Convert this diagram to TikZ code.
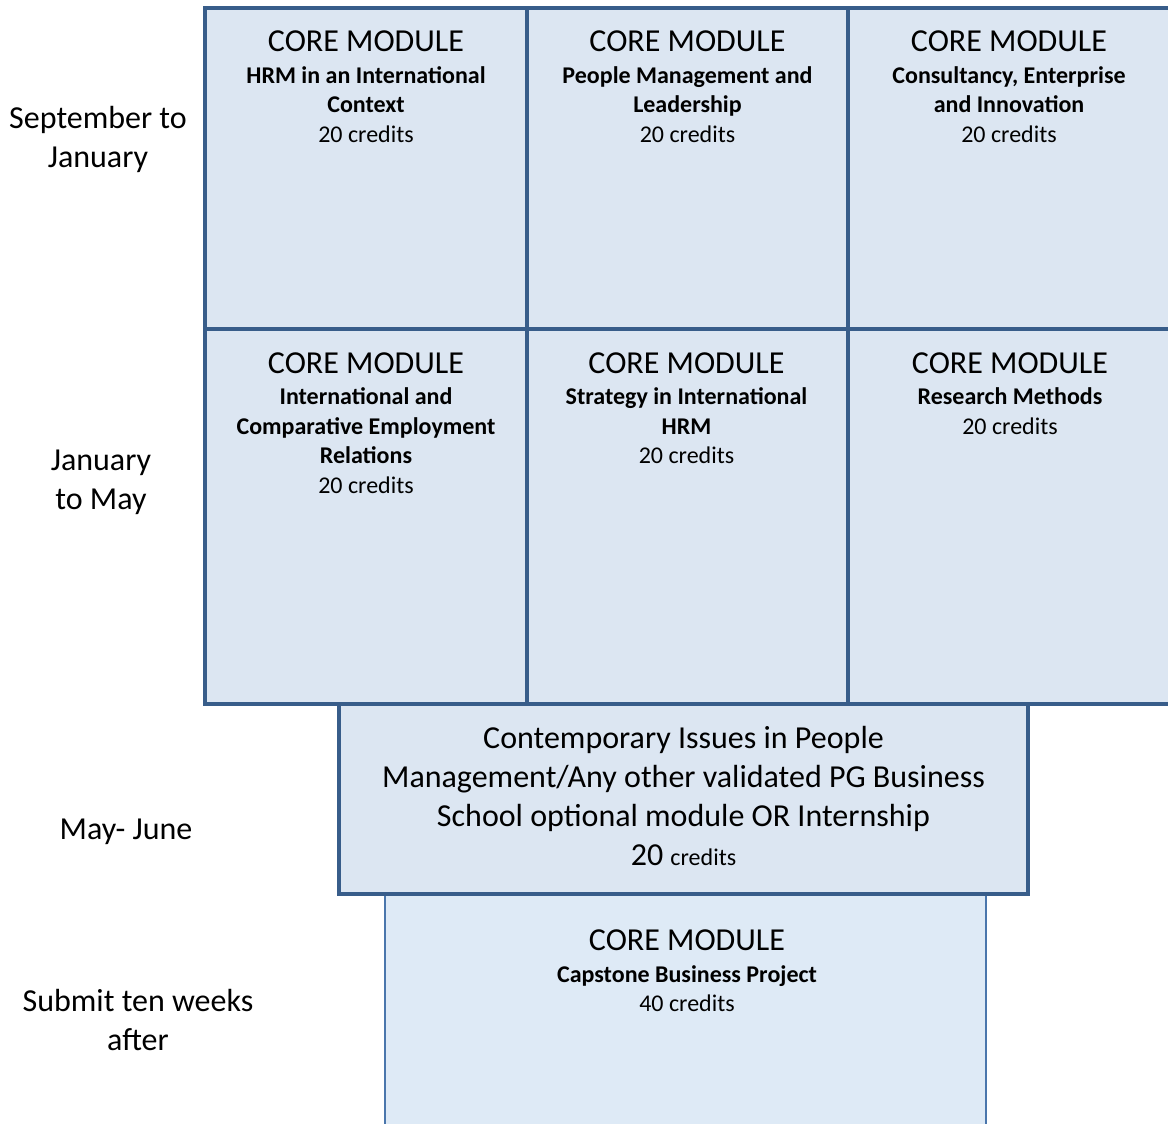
\documentclass[tikz,border=0pt]{standalone}
\usepackage{fontspec}
\setmainfont{Carlito}
\usetikzlibrary{positioning}
\definecolor{boxline}{HTML}{385D8A}
\definecolor{boxfill}{HTML}{DCE6F2}
\definecolor{capline}{HTML}{4A76AC}
\definecolor{capfill}{HTML}{DEEAF6}
\newcommand{\corehead}{{\fontsize{32}{32}\selectfont CORE MODULE}}

\begin{document}
\begin{tikzpicture}[x=1pt, y=-1pt,
		modbox/.style={draw=boxline, fill=boxfill, line width=4pt, inner sep=0pt},
		captbox/.style={draw=capline, fill=capfill, line width=2pt, inner sep=0pt},
		modtext/.style={align=center, inner sep=0pt, font=\fontsize{24}{29.5}\selectfont},
		term/.style={align=center, inner sep=0pt, font=\fontsize{32}{39}\selectfont}]
				\useasboundingbox (0,0) rectangle (1168,1124);

				% september to january
				\node[modbox, minimum width=322pt, minimum height=321pt] (hrm) at (366,168.5) {};
				\node[modbox, minimum width=321pt, minimum height=321pt] (pml) at (687.5,168.5) {};
				\node[modbox, minimum width=332pt, minimum height=321pt] (cei) at (1014,168.5) {};

				% january to may
				\node[modbox, minimum width=322pt, minimum height=375pt] (icer) at (366,516.5) {};
				\node[modbox, minimum width=321pt, minimum height=375pt] (sihrm) at (687.5,516.5) {};
				\node[modbox, minimum width=332pt, minimum height=375pt] (rm) at (1014,516.5) {};

				% may - june, then capstone
				\node[captbox, minimum width=601pt, minimum height=246pt] (cbp) at (685.5,1017) {};
				\node[modbox, minimum width=689pt, minimum height=190pt] (cipm) at (683.5,799) {};

				\node[modtext, below=25pt of hrm.north] (hrmtxt)
					{\corehead\\[2pt] \textbf{HRM in an International}\\ \textbf{Context}\\ 20 credits};
				\node[modtext, below=25pt of pml.north] (pmltxt)
					{\corehead\\[2pt] \textbf{People Management and}\\ \textbf{Leadership}\\ 20 credits};
				\node[modtext, below=25pt of cei.north, xshift=-5pt] (ceitxt)
					{\corehead\\[2pt] \textbf{Consultancy, Enterprise}\\ \textbf{and Innovation}\\ 20 credits};

				\node[modtext, below=26pt of icer.north] (icertxt)
					{\corehead\\[1.5pt] \textbf{International and}\\ \textbf{Comparative Employment}\\ \textbf{Relations}\\ 20 credits};
				\node[modtext, below=26pt of sihrm.north, xshift=-1pt] (sihrmtxt)
					{\corehead\\[1.5pt] \textbf{Strategy in International}\\ \textbf{HRM}\\ 20 credits};
				\node[modtext, below=26pt of rm.north, xshift=-4pt] (rmtxt)
					{\corehead\\[1.5pt] \textbf{Research Methods}\\ 20 credits};

				\node[modtext, below=24pt of cipm.north, font=\fontsize{32}{39}\selectfont] (cipmtxt)
					{Contemporary Issues in People\\ Management/Any other validated PG Business\\
					 School optional module OR Internship\\ 20 {\fontsize{24}{24}\selectfont credits}};
				\node[modtext, below=37pt of cbp.north, xshift=1.5pt] (cbptxt)
					{\corehead\\[2pt] \textbf{Capstone Business Project}\\ 40 credits};

				% terms
				\node[term] (sepjan) at (98,139.5) {September to\\January};
				\node[term] (janmay) at (101,482) {January\\to May};
				\node[term] (mayjun) at (126,832) {May- June};
				\node[term] (submit) at (138,1020) {Submit ten weeks\\after};
			\end{tikzpicture}
\end{document}
